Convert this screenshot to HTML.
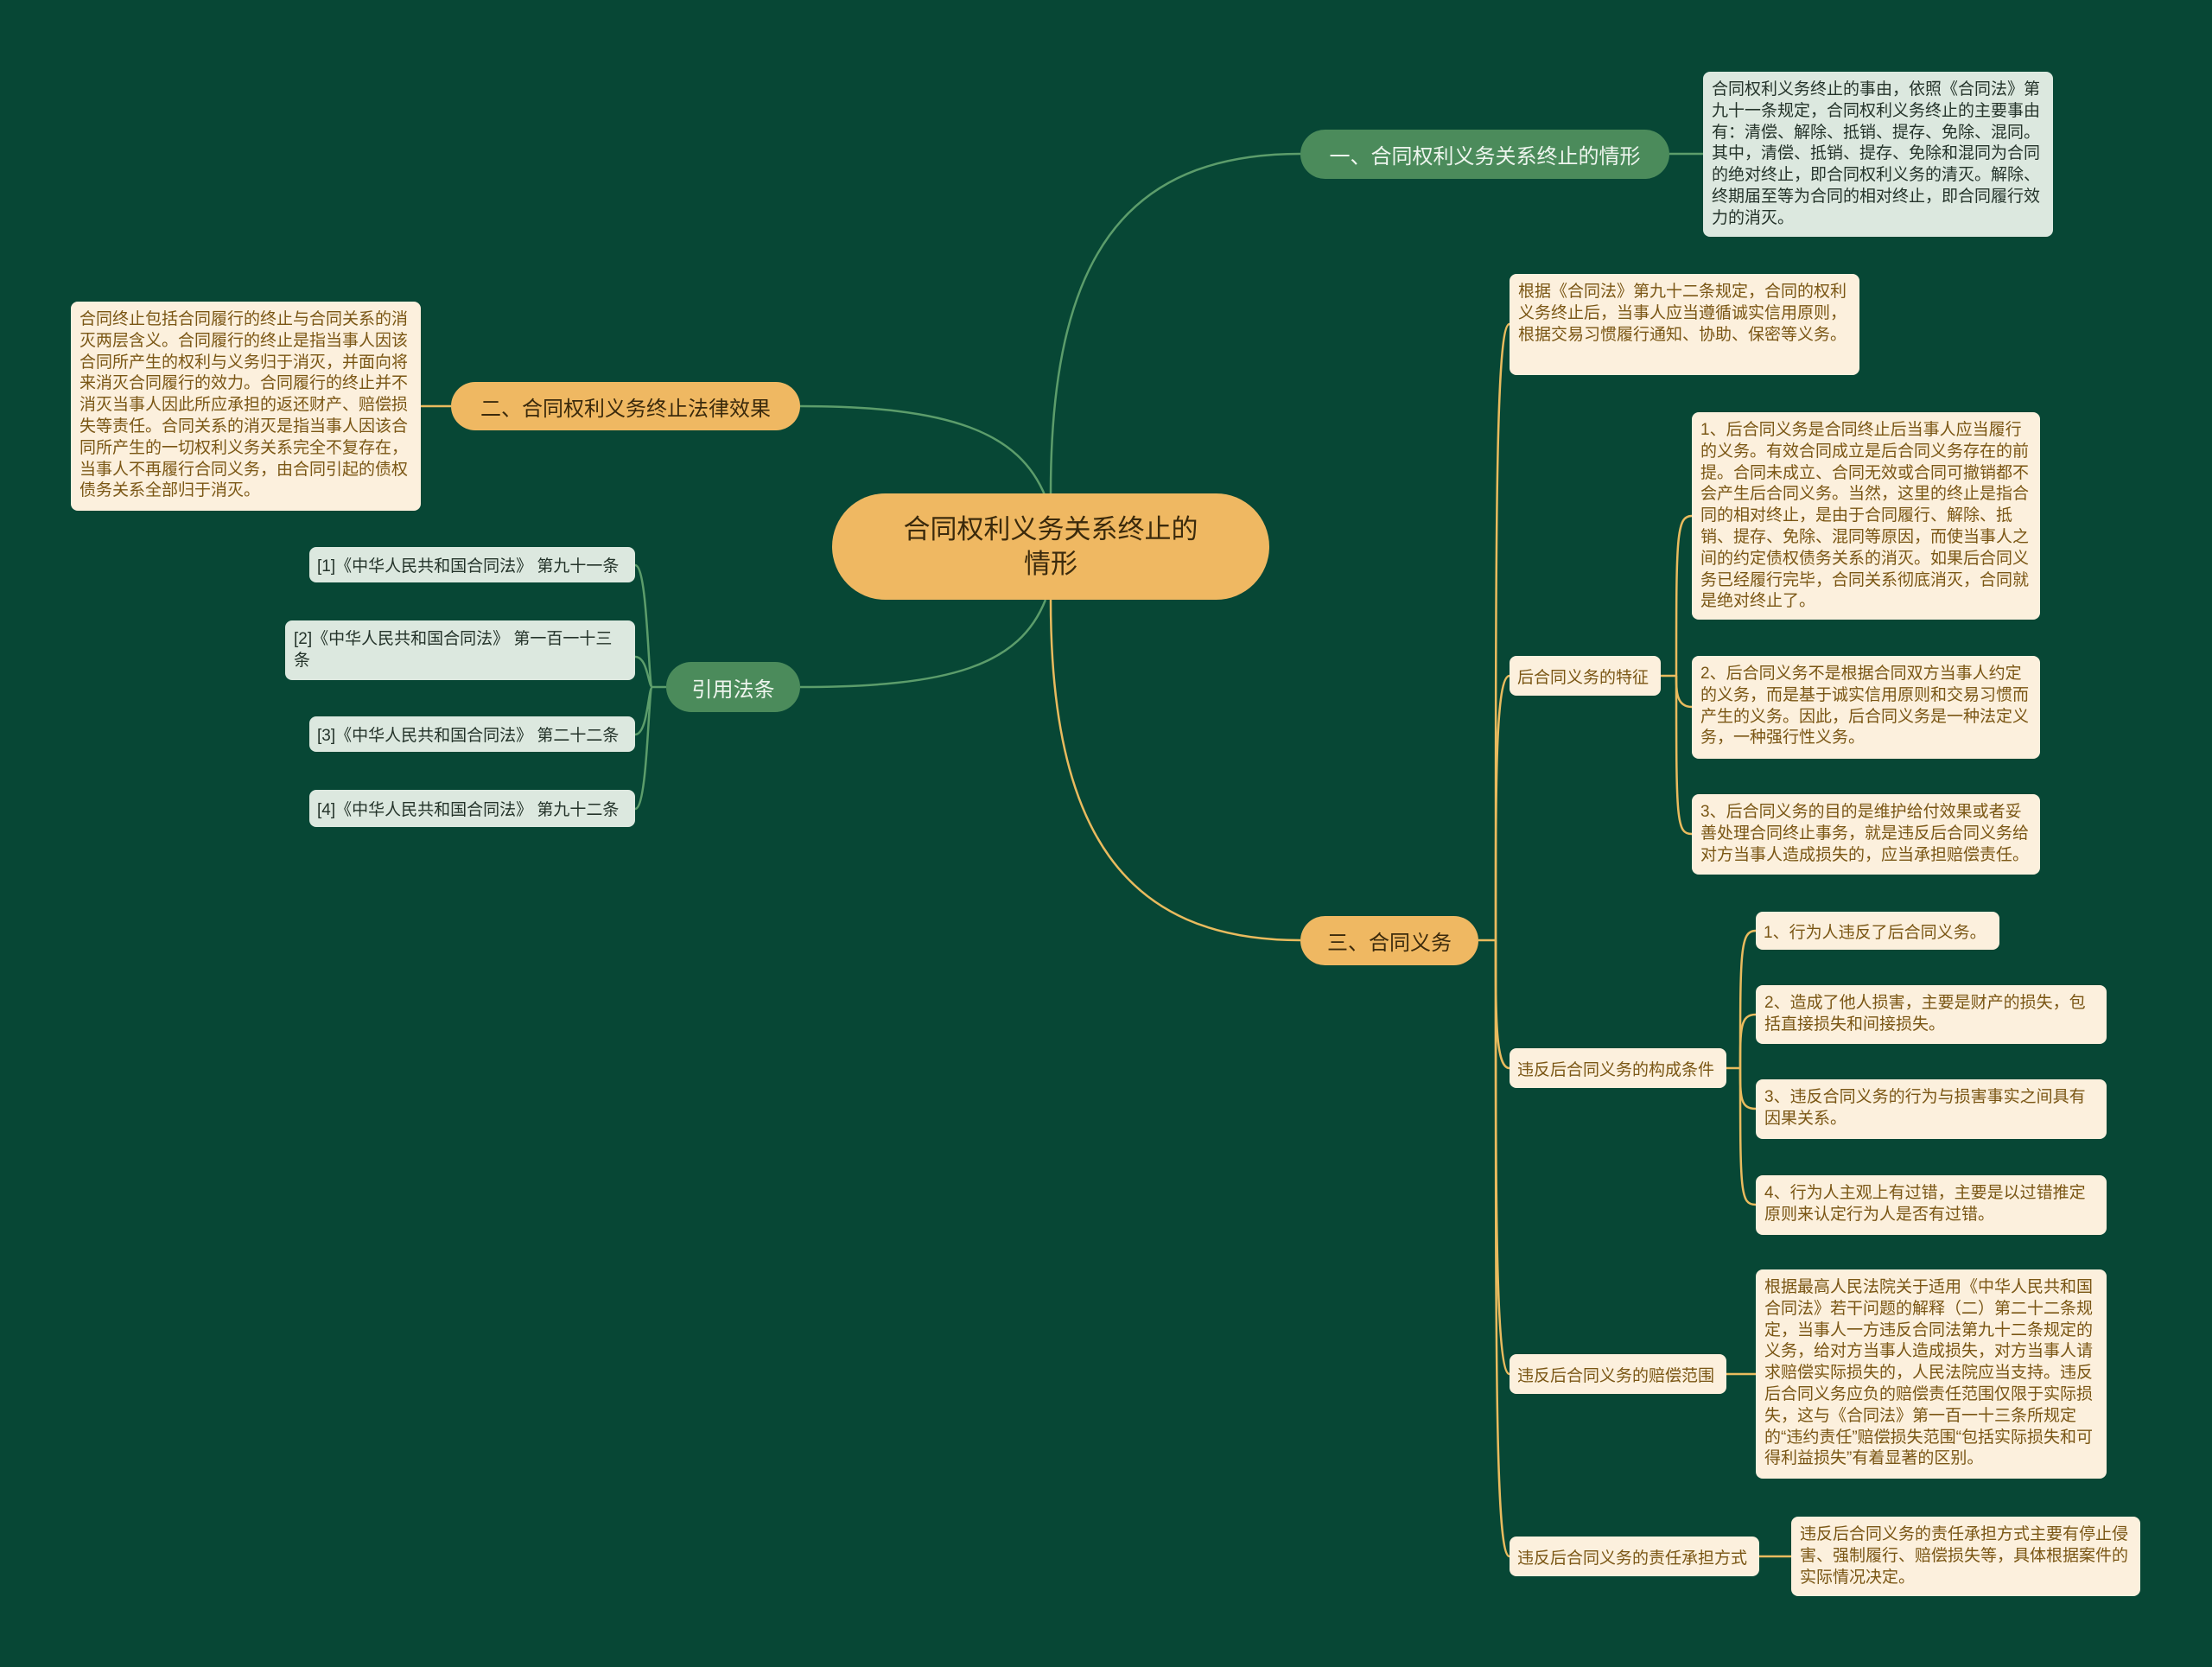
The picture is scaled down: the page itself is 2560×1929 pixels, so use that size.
<!DOCTYPE html>
<html><head><meta charset="utf-8"><style>
body{margin:0;width:2560px;height:1929px;background:#074735;position:relative;overflow:hidden;font-family:"Liberation Sans","Noto Sans CJK SC",sans-serif;}
.n{position:absolute;box-sizing:border-box;}
.pill{border-radius:30px;display:flex;align-items:center;justify-content:center;font-size:24px;}
.or{background:#efb862;color:#3b2a0c;}
.gr{background:#4b8b5b;color:#eef5ee;}
.box{border-radius:8px;font-size:19px;line-height:24.8px;padding:9px 10px;}
.cr{background:#fcf0dd;color:#7a5614;}
.lg{background:#dce8df;color:#24332a;}
.lbl{border-radius:8px;font-size:19px;display:flex;align-items:center;padding:0 9px;}
svg{position:absolute;left:0;top:0;}
</style></head><body>
<svg width="2560" height="1929" fill="none" stroke-width="2.5">
<g stroke="#5c9d6b">
<path d="M1216 571 C1216 300,1300 178,1505 178"/>
<path d="M1210 575 C1180 500,1100 470,926 470"/>
<path d="M1210 694 C1180 770,1100 795,926 795"/>
<path d="M771 795 L755 795"/>
<path d="M755 795 C750 795,750 654,735 654"/>
<path d="M755 795 C750 795,750 760,735 760"/>
<path d="M755 795 C750 795,750 850,735 850"/>
<path d="M755 795 C750 795,750 936,735 936"/>
<path d="M1932 178 L1971 178"/>
</g>
<g stroke="#e9bb5e">
<path d="M1216 694 C1216 960,1300 1088,1505 1088"/>
<path d="M522 470 L487 470"/>
<path d="M1711 1088 L1731 1088"/>
<path d="M1731 1088 C1731 600,1731 375,1747 375"/>
<path d="M1731 1088 C1731 900,1731 782,1747 782"/>
<path d="M1731 1088 C1731 1180,1731 1236,1747 1236"/>
<path d="M1731 1088 C1731 1400,1731 1590,1747 1590"/>
<path d="M1731 1088 C1731 1600,1731 1801,1747 1801"/>
<path d="M1922 782 L1940 782"/>
<path d="M1940 782 C1940 620,1940 597,1958 597"/>
<path d="M1940 782 C1940 800,1940 818,1958 818"/>
<path d="M1940 782 C1940 950,1940 965,1958 965"/>
<path d="M1998 1236 L2014 1236"/>
<path d="M2014 1236 C2014 1100,2014 1077,2032 1077"/>
<path d="M2014 1236 C2014 1190,2014 1174,2032 1174"/>
<path d="M2014 1236 C2014 1270,2014 1283,2032 1283"/>
<path d="M2014 1236 C2014 1380,2014 1394,2032 1394"/>
<path d="M1998 1590 L2032 1590"/>
<path d="M2036 1801 L2073 1801"/>
</g>
</svg>

<div class="n pill or" style="left:963px;top:571px;width:506px;height:123px;font-size:31px;line-height:40px;text-align:center;border-radius:62px;">合同权利义务关系终止的<br>情形</div>

<div class="n pill gr" style="left:1505px;top:150px;width:427px;height:57px;">一、合同权利义务关系终止的情形</div>
<div class="n box lg" style="left:1971px;top:83px;width:405px;height:191px;">合同权利义务终止的事由，依照《合同法》第九十一条规定，合同权利义务终止的主要事由有：清偿、解除、抵销、提存、免除、混同。其中，清偿、抵销、提存、免除和混同为合同的绝对终止，即合同权利义务的清灭。解除、终期届至等为合同的相对终止，即合同履行效力的消灭。</div>

<div class="n pill or" style="left:522px;top:442px;width:404px;height:56px;">二、合同权利义务终止法律效果</div>
<div class="n box cr" style="left:82px;top:349px;width:405px;height:242px;">合同终止包括合同履行的终止与合同关系的消灭两层含义。合同履行的终止是指当事人因该合同所产生的权利与义务归于消灭，并面向将来消灭合同履行的效力。合同履行的终止并不消灭当事人因此所应承担的返还财产、赔偿损失等责任。合同关系的消灭是指当事人因该合同所产生的一切权利义务关系完全不复存在，当事人不再履行合同义务，由合同引起的债权债务关系全部归于消灭。</div>

<div class="n pill gr" style="left:771px;top:766px;width:155px;height:58px;">引用法条</div>
<div class="n lbl lg" style="left:358px;top:633px;width:377px;height:41px;">[1]《中华人民共和国合同法》 第九十一条</div>
<div class="n box lg" style="left:330px;top:718px;width:405px;height:69px;padding-top:10px;">[2]《中华人民共和国合同法》 第一百一十三条</div>
<div class="n lbl lg" style="left:358px;top:829px;width:377px;height:41px;">[3]《中华人民共和国合同法》 第二十二条</div>
<div class="n lbl lg" style="left:358px;top:914px;width:377px;height:43px;">[4]《中华人民共和国合同法》 第九十二条</div>

<div class="n pill or" style="left:1505px;top:1060px;width:206px;height:57px;">三、合同义务</div>

<div class="n box cr" style="left:1747px;top:317px;width:405px;height:117px;">根据《合同法》第九十二条规定，合同的权利义务终止后，当事人应当遵循诚实信用原则，根据交易习惯履行通知、协助、保密等义务。</div>

<div class="n lbl cr" style="left:1747px;top:759px;width:175px;height:46px;">后合同义务的特征</div>
<div class="n box cr" style="left:1958px;top:477px;width:403px;height:240px;">1、后合同义务是合同终止后当事人应当履行的义务。有效合同成立是后合同义务存在的前提。合同未成立、合同无效或合同可撤销都不会产生后合同义务。当然，这里的终止是指合同的相对终止，是由于合同履行、解除、抵销、提存、免除、混同等原因，而使当事人之间的约定债权债务关系的消灭。如果后合同义务已经履行完毕，合同关系彻底消灭，合同就是绝对终止了。</div>
<div class="n box cr" style="left:1958px;top:759px;width:403px;height:119px;">2、后合同义务不是根据合同双方当事人约定的义务，而是基于诚实信用原则和交易习惯而产生的义务。因此，后合同义务是一种法定义务，一种强行性义务。</div>
<div class="n box cr" style="left:1958px;top:919px;width:403px;height:93px;">3、后合同义务的目的是维护给付效果或者妥善处理合同终止事务，就是违反后合同义务给对方当事人造成损失的，应当承担赔偿责任。</div>

<div class="n lbl cr" style="left:1747px;top:1213px;width:251px;height:46px;">违反后合同义务的构成条件</div>
<div class="n lbl cr" style="left:2032px;top:1055px;width:282px;height:44px;">1、行为人违反了后合同义务。</div>
<div class="n box cr" style="left:2032px;top:1140px;width:406px;height:68px;">2、造成了他人损害，主要是财产的损失，包括直接损失和间接损失。</div>
<div class="n box cr" style="left:2032px;top:1249px;width:406px;height:69px;">3、违反合同义务的行为与损害事实之间具有因果关系。</div>
<div class="n box cr" style="left:2032px;top:1360px;width:406px;height:69px;">4、行为人主观上有过错，主要是以过错推定原则来认定行为人是否有过错。</div>

<div class="n lbl cr" style="left:1747px;top:1567px;width:251px;height:46px;">违反后合同义务的赔偿范围</div>
<div class="n box cr" style="left:2032px;top:1469px;width:406px;height:242px;">根据最高人民法院关于适用《中华人民共和国合同法》若干问题的解释（二）第二十二条规定，当事人一方违反合同法第九十二条规定的义务，给对方当事人造成损失，对方当事人请求赔偿实际损失的，人民法院应当支持。违反后合同义务应负的赔偿责任范围仅限于实际损失，这与《合同法》第一百一十三条所规定的“违约责任”赔偿损失范围“包括实际损失和可得利益损失”有着显著的区别。</div>

<div class="n lbl cr" style="left:1747px;top:1778px;width:289px;height:46px;">违反后合同义务的责任承担方式</div>
<div class="n box cr" style="left:2073px;top:1755px;width:404px;height:92px;">违反后合同义务的责任承担方式主要有停止侵害、强制履行、赔偿损失等，具体根据案件的实际情况决定。</div>
</body></html>
